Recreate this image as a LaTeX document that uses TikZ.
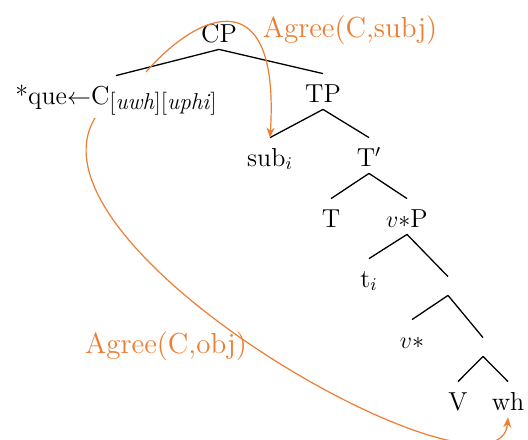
\documentclass[tikz,border=0pt]{standalone}
\usepackage{xcolor}
\usepackage{tikz}
\usetikzlibrary{arrows.meta}
\definecolor{agreeorange}{RGB}{237,125,49}

\begin{document}
\begin{tikzpicture}[x=0.5pt,y=-0.5pt]
    \tikzstyle{cat} = [font=\fontsize{13}{15}\selectfont, inner sep=2pt, text height=12pt, text depth=1.5pt, anchor=base]
    \tikzstyle{hole} = [inner sep=0pt, minimum height=9pt, minimum width=0pt]
    \tikzstyle{branch} = [draw, line width=0.65pt]
    \tikzstyle{agree} = [draw=agreeorange, line width=0.6pt, -{Stealth[length=5pt,width=4pt]}]
    \tikzstyle{agreelabel} = [text=agreeorange, font=\fontsize{14.5}{16}\selectfont, anchor=base]
    \useasboundingbox (0,0) rectangle (528,439);
    % categories
    \node [cat] (CP) at (219,42) {CP};
    \node [cat] (C) at (116,104) {*que$\leftarrow$C\raisebox{-.45ex}{\fontsize{11.5}{13}\selectfont[\textit{uwh}][\textit{uphi}]}};
    \node [cat] (TP) at (323,102) {TP};
    \node [cat] (sub) at (270,166) {sub$_i$};
    \node [cat] (Tbar) at (369,166) {T$'$};
    \node [cat] (T) at (331,227) {T};
    \node [cat] (vP) at (407,227) {$v{\ast}$P};
    \node [cat] (t) at (369,287) {t$_i$};
    \node [hole] (vbar) at (448,286) {};
    \node [cat] (v) at (412,348) {$v{\ast}$};
    \node [hole] (VP) at (483,347) {};
    \node [cat] (V) at (458,410) {V};
    \node [cat] (wh) at (508,410) {wh};
    % branches
    \draw [branch] (CP.south) -- (C.north);
    \draw [branch] (CP.south) -- (TP.north);
    \draw [branch] (TP.south) -- (sub.north);
    \draw [branch] (TP.south) -- (Tbar.north);
    \draw [branch] (Tbar.south) -- (T.north);
    \draw [branch] (Tbar.south) -- (vP.north);
    \draw [branch] (vP.south) -- (t.north);
    \draw [branch] (vP.south) -- (vbar.north);
    \draw [branch] (vbar.south) -- (v.north);
    \draw [branch] (vbar.south) -- (VP.north);
    \draw [branch] (VP.south) -- (V.north);
    \draw [branch] (VP.south) -- (wh.north);
    % agree relations
    \node [agreelabel] (subjlabel) at (350,37) {Agree(C,subj)};
    \node [agreelabel] (objlabel) at (166,353) {Agree(C,obj)};
    \coordinate (subjfrom) at (146,72);
    \coordinate (objfrom) at (95,118);
    \draw [agree] (subjfrom) .. controls (200,10) and (280,-20) .. (sub.north);
    \draw [agree] (objfrom) .. controls (15,250) and (500,520) .. (wh.south);
\end{tikzpicture}
\end{document}
